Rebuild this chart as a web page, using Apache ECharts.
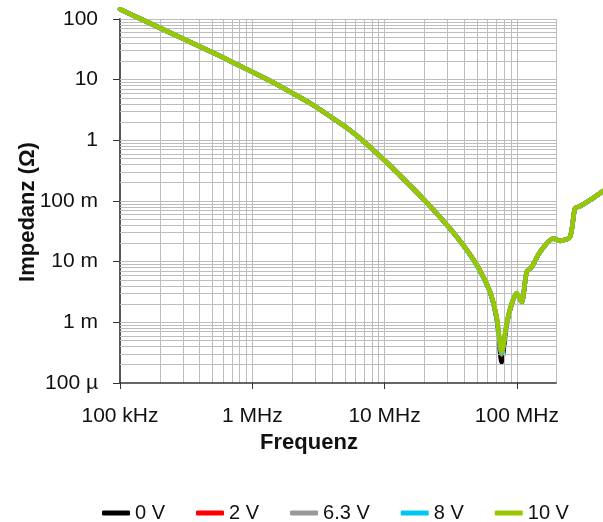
<!DOCTYPE html>
<html>
<head>
<meta charset="utf-8">
<script src="https://cdn.jsdelivr.net/npm/echarts@6/dist/echarts.min.js"></script>
<style>
html,body{margin:0;padding:0;background:#fff;}
#chart{width:603px;height:522px;}
</style>
</head>
<body>
<div id="chart"></div>
<script>
// ---- data ----
var freq = [1e5, 1.84e5, 3.21e5, 5.7e5, 9.61e5, 1.36e6, 2.03e6, 2.89e6, 4.07e6, 5.17e6, 6.52e6, 9.23e6, 1.10e7, 1.307e7, 1.61e7, 2.02e7, 2.95e7, 3.59e7, 4.42e7, 5.26e7, 6.26e7, 7.04e7, 7.67e7, 8.37e7, 9.14e7, 9.96e7, 1.087e8, 1.186e8, 1.294e8, 1.496e8, 1.885e8, 2.12e8, 2.52e8, 2.75e8, 3.0e8, 3.57e8, 4.38e8, 4.47e8];
var z0V  = [144.5, 77.8, 44.1, 24.5, 14.0, 9.6, 5.94, 3.81, 2.30, 1.614, 1.079, 0.547, 0.384, 0.264, 0.168, 0.1007, 0.0406, 0.0242, 0.0131, 0.00713, 0.00318, 0.00114, 0.000220, 0.000900, 0.00200, 0.00300, 0.00214, 0.00670, 0.00815, 0.01440, 0.0240, 0.0220, 0.0256, 0.0752, 0.082, 0.103, 0.141, 0.146];
var z2V  = [144.5, 77.8, 44.1, 24.5, 14.0, 9.6, 5.94, 3.81, 2.30, 1.614, 1.079, 0.547, 0.384, 0.264, 0.168, 0.1007, 0.0406, 0.0242, 0.0131, 0.00713, 0.00320, 0.00118, 0.000290, 0.000930, 0.00202, 0.00303, 0.00215, 0.00673, 0.00817, 0.01443, 0.0240, 0.0220, 0.0256, 0.0752, 0.082, 0.103, 0.141, 0.146];
var z63V = [144.5, 77.8, 44.1, 24.5, 14.0, 9.6, 5.94, 3.81, 2.30, 1.614, 1.079, 0.547, 0.384, 0.264, 0.168, 0.1007, 0.0406, 0.0242, 0.0131, 0.00713, 0.00320, 0.00120, 0.000300, 0.000940, 0.00203, 0.00304, 0.00216, 0.00675, 0.00818, 0.01445, 0.0240, 0.0220, 0.0256, 0.0752, 0.082, 0.103, 0.141, 0.146];
var z8V  = [144.5, 77.8, 44.1, 24.5, 14.0, 9.6, 5.94, 3.81, 2.30, 1.614, 1.079, 0.547, 0.384, 0.264, 0.168, 0.1007, 0.0406, 0.0242, 0.0129, 0.00700, 0.00312, 0.00116, 0.000310, 0.000945, 0.00204, 0.00305, 0.00216, 0.00676, 0.00818, 0.01445, 0.0240, 0.0220, 0.0256, 0.0752, 0.082, 0.103, 0.141, 0.146];
var z10V = [144.5, 77.8, 44.1, 24.5, 14.0, 9.6, 5.94, 3.81, 2.30, 1.614, 1.079, 0.547, 0.384, 0.264, 0.168, 0.1007, 0.0406, 0.0242, 0.0131, 0.00713, 0.00321, 0.00122, 0.000324, 0.000953, 0.00204, 0.00305, 0.00216, 0.00676, 0.00818, 0.01445, 0.0240, 0.0220, 0.0256, 0.0752, 0.082, 0.103, 0.141, 0.146];

var seriesNames = ['0 V', '2 V', '6.3 V', '8 V', '10 V'];
var seriesColors = ['#000000', '#ff0000', '#999999', '#00c8f5', '#99c800'];

var xTickValues = [1e5, 1e6, 1e7, 1e8];
var xTickLabels = ['100 kHz', '1 MHz', '10 MHz', '100 MHz'];
var yTickValues = [1e-4, 1e-3, 1e-2, 1e-1, 1, 10, 100];
var yTickLabels = ['100 µ', '1 m', '10 m', '100 m', '1', '10', '100'];

var xMin = 1e5, xGridEnd = 2e8, xAxisEnd = 4.477e8, yMin = 1e-4, yMax = 100;
var gridMultipliers = [1, 2, 3, 4, 5, 6, 7, 8, 9];

// ---- build ----
var FONT = "'Liberation Sans', Arial, sans-serif";
function labelFor(values, labels) {
  return function (v) {
    for (var i = 0; i < values.length; i++) {
      if (Math.abs(Math.log10(v) - Math.log10(values[i])) < 1e-6) return labels[i];
    }
    return '';
  };
}
var gridLines = [];
xTickValues.forEach(function (d) {
  gridMultipliers.forEach(function (m) {
    var v = d * m;
    if (v > xMin * 1.0001 && v <= xGridEnd * 1.0001) gridLines.push([{ coord: [v, yMin] }, { coord: [v, yMax] }]);
  });
});
yTickValues.forEach(function (d) {
  gridMultipliers.forEach(function (m) {
    var v = d * m;
    if (v > yMin * 1.0001 && v <= yMax * 1.0001) gridLines.push([{ coord: [xMin, v] }, { coord: [xGridEnd, v] }]);
  });
});
var axisLines = [[{ coord: [xMin, yMin] }, { coord: [xGridEnd, yMin] }]];

var allZ = [z0V, z2V, z63V, z8V, z10V];
var series = [{
  name: 'grid', type: 'line', data: [], silent: true, z: 0,
  markLine: {
    silent: true, symbol: ['none', 'none'], animation: false,
    label: { show: false },
    lineStyle: { color: '#bdbdbd', width: 1, type: 'solid' },
    emphasis: { disabled: true },
    data: gridLines
  }
}, {
  name: 'axis', type: 'line', data: [], silent: true, z: 10,
  markLine: {
    silent: true, symbol: ['none', 'none'], animation: false,
    label: { show: false },
    lineStyle: { color: '#333333', width: 1.5, type: 'solid' },
    emphasis: { disabled: true },
    data: axisLines
  }
}];
allZ.forEach(function (arr, i) {
  series.push({
    name: seriesNames[i], type: 'line', showSymbol: false, symbol: 'none', clip: false,
    smooth: 0.25, z: 3 + i,
    lineStyle: { color: seriesColors[i], width: 4.5, cap: 'round', join: 'round' },
    itemStyle: { color: seriesColors[i] },
    data: freq.map(function (f, k) { return [f, arr[k]]; })
  });
});

var chart = echarts.init(document.getElementById('chart'), null, { renderer: 'canvas' });
chart.setOption({
  animation: false,
  backgroundColor: '#ffffff',
  grid: { left: 120, top: 19, right: 0, bottom: 139, containLabel: false, outerBoundsMode: 'none' },
  xAxis: {
    type: 'log', logBase: 10, min: xMin, max: xAxisEnd,
    name: 'Frequenz', nameLocation: 'middle', nameGap: 49, nameMoveOverlap: false,
    nameTextStyle: { fontFamily: FONT, fontSize: 22, fontWeight: 'bold', color: '#111', padding: [0, 105, 0, 0] },
    axisLine: { show: false },
    axisTick: { show: true, length: 6, lineStyle: { color: '#333', width: 1 }, customValues: xTickValues },
    axisLabel: { fontFamily: FONT, fontSize: 21, color: '#111', margin: 23, formatter: labelFor(xTickValues, xTickLabels), customValues: xTickValues },
    splitLine: { show: false },
    minorTick: { show: false }, minorSplitLine: { show: false }
  },
  yAxis: {
    type: 'log', logBase: 10, min: yMin, max: yMax,
    name: 'Impedanz (Ω)', nameLocation: 'middle', nameGap: 81, nameRotate: 90, nameMoveOverlap: false,
    nameTextStyle: { fontFamily: FONT, fontSize: 22, fontWeight: 'bold', color: '#111', padding: [0, 22, 0, 0] },
    axisLine: { show: true, lineStyle: { color: '#555', width: 2 } },
    axisTick: { show: true, length: 7, lineStyle: { color: '#333', width: 1 } },
    axisLabel: { fontFamily: FONT, fontSize: 21, color: '#111', margin: 22, formatter: labelFor(yTickValues, yTickLabels) },
    splitLine: { show: false },
    minorTick: { show: false }, minorSplitLine: { show: false }
  },
  legend: {
    data: seriesNames, left: 97, top: 498, itemGap: 31, itemWidth: 28, itemHeight: 5, icon: 'roundRect',
    textStyle: { fontFamily: FONT, fontSize: 20, color: '#111' }
  },
  series: series
});
</script>
</body>
</html>
